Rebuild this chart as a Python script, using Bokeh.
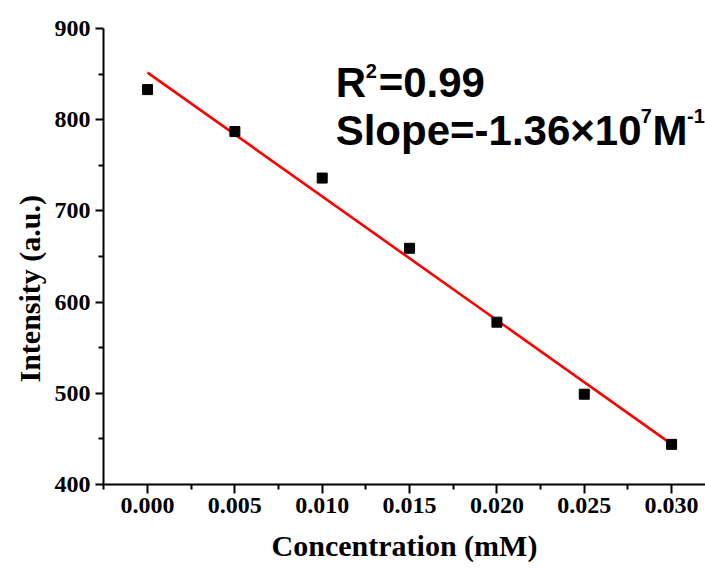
import numpy as np
from bokeh.plotting import figure
from bokeh.models import Range1d, FixedTicker, PrintfTickFormatter, Label, Title
from bokeh.embed import file_html
from bokeh.resources import INLINE

# Data
concentration = [0.000, 0.005, 0.010, 0.015, 0.020, 0.025, 0.030]
intensity = [833, 787, 736, 659, 578, 499, 444]
x_ticks = [0.000, 0.005, 0.010, 0.015, 0.020, 0.025, 0.030]
x_minor = [-0.0025, 0.0025, 0.0075, 0.0125, 0.0175, 0.0225, 0.0275, 0.0325]
y_ticks = [400, 500, 600, 700, 800, 900]
y_minor = [450, 550, 650, 750, 850]

# linear fit
slope, intercept = np.polyfit(concentration, intensity, 1)
fit_x = [concentration[0], concentration[-1]]
fit_y = [slope * v + intercept for v in fit_x]

p = figure(width=705, height=569, output_backend="svg", toolbar_location=None,
           x_range=Range1d(-0.00252, 0.03194), y_range=Range1d(400, 900),
           min_border_left=103, min_border_right=0, min_border_top=28,
           min_border_bottom=85)
p.outline_line_color = None
p.grid.visible = False
p.background_fill_color = "white"
p.border_fill_color = "white"

p.line(fit_x, fit_y, line_color="#ff0000", line_width=2.6)
p.scatter(concentration, intensity, marker="square", size=10,
          fill_color="black", line_color="black")

serif = "Liberation Serif"
for ax in (p.xaxis[0], p.yaxis[0]):
    ax.axis_line_width = 2
    ax.axis_line_color = "black"
    ax.major_tick_line_width = 2
    ax.minor_tick_line_width = 2
    ax.major_tick_in = 0
    ax.minor_tick_in = 0
    ax.major_label_text_font = serif
    ax.major_label_text_font_style = "bold"
    ax.major_label_text_font_size = "24px"
    ax.major_label_text_color = "black"
    ax.axis_label_text_font = serif
    ax.axis_label_text_font_style = "bold"
    ax.axis_label_text_font_size = "30px"
    ax.axis_label_text_color = "black"

p.xaxis.ticker = FixedTicker(ticks=x_ticks, minor_ticks=x_minor)
p.xaxis.formatter = PrintfTickFormatter(format="%.3f")
p.xaxis.major_tick_out = 9
p.xaxis.minor_tick_out = 5
p.xaxis.major_label_standoff = 4
p.xaxis.axis_label = "Concentration (mM)"
p.xaxis.axis_label_standoff = 13

p.yaxis.ticker = FixedTicker(ticks=y_ticks, minor_ticks=y_minor)
p.yaxis.major_tick_out = 8
p.yaxis.minor_tick_out = 5
p.yaxis.major_label_standoff = 5

# y-axis title (slightly below the frame centre, as in the reference)
p.add_layout(Title(text="Intensity (a.u.)", align="left", offset=102,
                   text_font=serif, text_font_style="bold", text_font_size="30px",
                   text_color="black", standoff=12), "left")

sans = "Liberation Sans"
def lab(x, y, t, size):
    p.add_layout(Label(x=x, y=y, text=t, text_font=sans, text_font_style="bold",
                       text_font_size=size, text_color="black",
                       text_baseline="alphabetic", text_align="left"))

lab(0.01077, 840.3, "R", "42px")
lab(0.01249, 853.5, "2", "20px")
lab(0.01323, 840.3, "=0.99", "42px")
lab(0.01077, 788.5, "Slope=-1.36×10", "42px")
lab(0.02824, 803.8, "7", "20px")
lab(0.02890, 788.5, "M", "42px")
lab(0.03088, 803.8, "-1", "20px")

open("out.html", "w").write(file_html(p, INLINE))
